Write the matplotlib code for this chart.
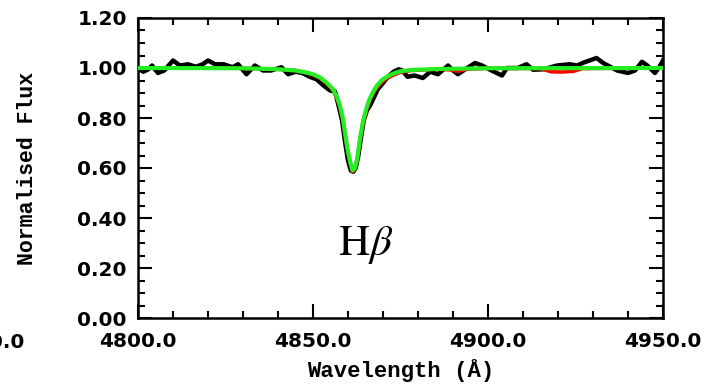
import matplotlib
matplotlib.use("Agg")
import matplotlib.pyplot as plt
from matplotlib.ticker import MultipleLocator, FormatStrFormatter

# Observed spectrum (black)
obs_wave = [4800.0, 4801.5, 4803.0, 4804.0, 4805.7, 4807.5, 4810.0, 4812.0, 4814.3, 4816.5,
            4818.5, 4820.0, 4822.0, 4824.5, 4827.0, 4828.6, 4831.0, 4833.4, 4835.7, 4838.0,
            4841.0, 4842.9, 4845.0, 4847.0, 4849.0, 4851.0, 4853.0, 4854.9, 4856.3, 4857.3,
            4858.3, 4859.2, 4860.0, 4860.8, 4861.5, 4862.2, 4862.9, 4863.7, 4864.5, 4865.4,
            4866.3, 4867.5, 4868.5, 4870.0, 4871.4, 4873.0, 4874.5, 4875.5, 4877.0, 4879.0,
            4881.4, 4883.5, 4885.7, 4888.6, 4890.0, 4891.4, 4893.5, 4896.3, 4898.3, 4901.0,
            4904.0, 4905.4, 4908.5, 4911.0, 4912.9, 4916.0, 4919.7, 4923.4, 4925.5, 4927.0,
            4931.0, 4932.9, 4936.9, 4940.0, 4942.0, 4944.0, 4945.5, 4947.7, 4949.0, 4950.0]
obs_flux = [1.000, 0.985, 0.995, 1.010, 0.980, 0.990, 1.030, 1.010, 1.015, 1.005,
            1.015, 1.030, 1.015, 1.015, 1.003, 1.015, 0.975, 1.010, 0.990, 0.990,
            1.003, 0.975, 0.985, 0.980, 0.965, 0.955, 0.930, 0.910, 0.905, 0.850,
            0.790, 0.700, 0.630, 0.590, 0.585, 0.600, 0.645, 0.720, 0.790, 0.830,
            0.850, 0.885, 0.915, 0.940, 0.965, 0.985, 0.995, 0.990, 0.965, 0.970,
            0.960, 0.985, 0.975, 1.010, 0.990, 0.975, 0.995, 1.020, 1.010, 0.990,
            0.970, 1.000, 1.000, 1.015, 0.993, 0.995, 1.010, 1.015, 1.010, 1.020,
            1.040, 1.020, 0.990, 0.980, 0.990, 1.025, 1.010, 0.980, 1.005, 1.030]

# Model fit (green)
fit_wave = [4800.0, 4830.0, 4840.0, 4845.0, 4848.0, 4850.0, 4852.0, 4854.0, 4855.7, 4856.8,
            4857.7, 4858.5, 4859.1, 4859.8, 4860.6, 4861.3, 4862.0, 4862.6, 4863.4, 4864.2,
            4864.9, 4865.6, 4866.3, 4867.3, 4868.3, 4869.7, 4871.1, 4873.0, 4875.0, 4878.0,
            4885.0, 4900.0, 4950.0]
fit_flux = [1.000, 0.999, 0.995, 0.990, 0.982, 0.975, 0.962, 0.940, 0.915, 0.885,
            0.850, 0.800, 0.745, 0.680, 0.625, 0.590, 0.600, 0.635, 0.715, 0.780,
            0.820, 0.855, 0.880, 0.908, 0.930, 0.952, 0.965, 0.978, 0.987, 0.992,
            0.996, 0.999, 1.000]

# Second model (red, mostly hidden)
red_wave = [4800.0, 4830.0, 4840.0, 4845.0, 4848.0, 4850.0, 4852.0, 4854.0, 4855.7, 4856.8,
            4857.7, 4858.5, 4859.1, 4859.8, 4860.6, 4861.3, 4862.0, 4862.6, 4863.4, 4864.2,
            4864.9, 4865.6, 4866.3, 4867.3, 4868.3, 4869.7, 4871.1, 4873.0, 4875.0, 4878.0,
            4885.0, 4889.0, 4891.5, 4894.0, 4900.0, 4915.0, 4918.0, 4921.0, 4924.5, 4927.0,
            4950.0]
red_flux = [1.000, 0.999, 0.995, 0.990, 0.981, 0.973, 0.960, 0.937, 0.912, 0.882,
            0.846, 0.796, 0.742, 0.678, 0.622, 0.585, 0.596, 0.630, 0.708, 0.772,
            0.812, 0.846, 0.872, 0.900, 0.922, 0.944, 0.958, 0.972, 0.983, 0.990,
            0.995, 0.993, 0.987, 0.995, 0.999, 0.998, 0.985, 0.984, 0.987, 0.998,
            1.000]

x_range = (4800.0, 4950.0)
y_range = (0.0, 1.2)

plt.rcParams['mathtext.fontset'] = 'stix'

fig = plt.figure(figsize=(7.06, 3.87), dpi=100)
ax = fig.add_axes([138/706, 69/387, (663-138)/706, (318-18)/387])

ax.plot(obs_wave, obs_flux, color='black', lw=3.2, solid_joinstyle='round', zorder=2)
ax.plot(red_wave, red_flux, color='red', lw=2.6, zorder=3)
ax.plot(fit_wave, fit_flux, color='#22ee22', lw=3.0, solid_joinstyle='round', zorder=4)

ax.set_xlim(*x_range)
ax.set_ylim(*y_range)

ax.xaxis.set_major_locator(MultipleLocator(50))
ax.xaxis.set_minor_locator(MultipleLocator(10))
ax.yaxis.set_major_locator(MultipleLocator(0.2))
ax.yaxis.set_minor_locator(MultipleLocator(0.05))
ax.xaxis.set_major_formatter(FormatStrFormatter('%.1f'))
ax.yaxis.set_major_formatter(FormatStrFormatter('%.2f'))

ax.tick_params(which='both', direction='in', top=True, right=True, width=1.5, color='black')
ax.tick_params(which='major', length=10)
ax.tick_params(which='minor', length=5)
ax.tick_params(axis='x', which='major', pad=10)
ax.tick_params(axis='y', which='major', pad=8)
for lab in ax.get_xticklabels() + ax.get_yticklabels():
    lab.set_fontfamily('DejaVu Sans')
    lab.set_fontweight('bold')
    lab.set_fontsize(14.5)

for sp in ax.spines.values():
    sp.set_linewidth(1.8)

ax.set_xlabel('Wavelength (Å)', fontfamily='Liberation Mono', fontweight='bold',
              fontsize=16, labelpad=6)
ax.set_ylabel('Normalised Flux', fontfamily='Liberation Mono', fontweight='bold',
              fontsize=15.5, labelpad=28)

ax.text(4857.1, 0.253, r'$\mathrm{H}\beta$', fontsize=31, ha='left', va='baseline')

# cut-off tick label of neighbouring panel (partly outside the figure, as in the reference)
fig.text(24/706, 1 - 342/387, '4950.0', fontfamily='DejaVu Sans', fontweight='bold',
         fontsize=14.5, ha='right', va='center')

fig.savefig('out.png', dpi=100)
